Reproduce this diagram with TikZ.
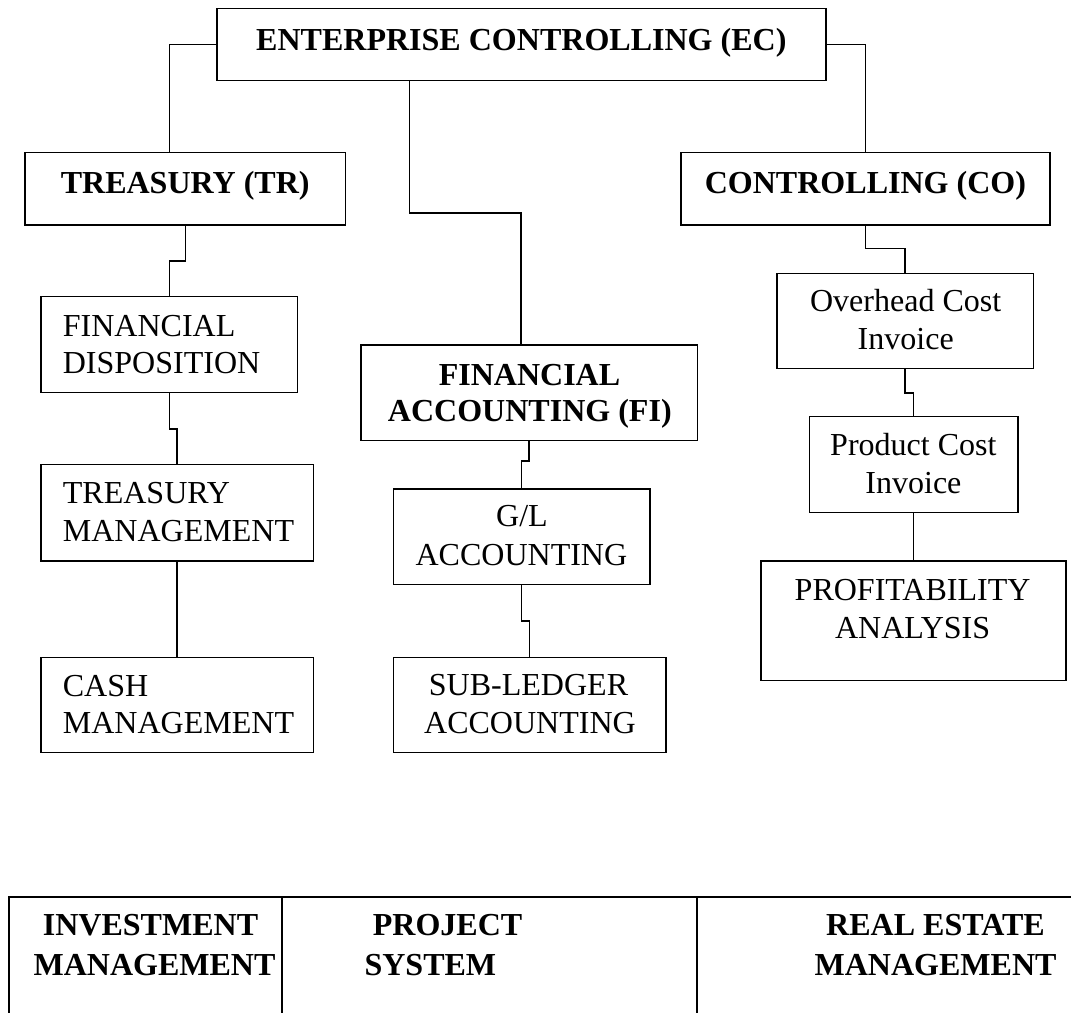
\documentclass[tikz,border=0pt]{standalone}
\usepackage{fontspec}
\setmainfont{Liberation Serif}
% one drawing unit
\newdimen\pxu \pxu=0.380952pt
% box: name, centre x, centre y, width, height
\newcommand\orgbox[5]{\node[box, minimum width=#4\pxu, minimum height=#5\pxu] (#1) at (#2,#3) {};}
\begin{document}
\begin{tikzpicture}[x=0.380952pt, y=-0.380952pt,
  box/.style={draw, line width=0.6pt, rectangle, inner sep=0pt},
  txt/.style={inner sep=0pt, anchor=base, font=\fontsize{12.2}{14.6}\selectfont},
  ltxt/.style={txt, anchor=base west},
  btxt/.style={txt, font=\fontsize{12.2}{14.6}\selectfont\bfseries},
  bltxt/.style={btxt, anchor=base west},
  wire/.style={line width=0.6pt},
  rule/.style={line width=0.75pt}]
\useasboundingbox (0,0) rectangle (1071,1012);

% ---- boxes ----
\orgbox{ec}{521.35}{44.5}{608.7}{72.4}
\orgbox{tr}{185.35}{188.85}{320.7}{72.3}
\orgbox{co}{865.5}{188.85}{369}{72.3}
\orgbox{fd}{169.35}{344.7}{256.7}{96}
\orgbox{tm}{177.15}{512.65}{272.3}{96.7}
\orgbox{cm}{177.15}{705}{272.3}{95.4}
\orgbox{fi}{529.15}{392.85}{336.3}{95.7}
\orgbox{gl}{521.65}{536.65}{256.7}{95.3}
\orgbox{sl}{529.5}{705}{272.4}{95.4}
\orgbox{oh}{905.15}{321}{256.3}{95.4}
\orgbox{pc}{913.5}{464.7}{208.4}{96}
\orgbox{pa}{913.5}{620.85}{305}{119.7}

% ---- labels ----
\node[btxt] (ec-a) at (521.35,50.7) {ENTERPRISE CONTROLLING (EC)};
\node[btxt] (tr-a) at (185.2,194) {TREASURY (TR)};
\node[btxt] (co-a) at (865.4,194) {CONTROLLING (CO)};
\node[ltxt] (fd-a) at (62.3,336) {FINANCIAL};
\node[ltxt] (fd-b) at (62.3,373.3) {DISPOSITION};
\node[ltxt] (tm-a) at (62.3,503.3) {TREASURY};
\node[ltxt] (tm-b) at (62.3,541.7) {MANAGEMENT};
\node[ltxt] (cm-a) at (62.3,696) {CASH};
\node[ltxt] (cm-b) at (62.3,733.3) {MANAGEMENT};
\node[btxt] (fi-a) at (529.5,385) {FINANCIAL};
\node[btxt] (fi-b) at (529.8,421.7) {ACCOUNTING (FI)};
\node[txt] (gl-a) at (522,526.7) {G/L};
\node[txt] (gl-b) at (521.4,565) {ACCOUNTING};
\node[txt] (sl-a) at (528.5,695.7) {SUB-LEDGER};
\node[txt] (sl-b) at (530,733.3) {ACCOUNTING};
\node[txt] (oh-a) at (905.7,311.7) {Overhead Cost};
\node[txt] (oh-b) at (905.7,349) {Invoice};
\node[txt] (pc-a) at (913.4,455) {Product Cost};
\node[txt] (pc-b) at (913.4,493.3) {Invoice};
\node[txt] (pa-a) at (912.6,600) {PROFITABILITY};
\node[txt] (pa-b) at (912.6,638.3) {ANALYSIS};

% ---- connectors ----
\draw[wire] (ec.west) -| ([xshift=-16.05\pxu]tr.north);
\draw[wire] (ec.east) -| (co.north);
\draw[wire] ([xshift=-112.05\pxu]ec.south) -- ++(0,131.3) -| ([xshift=-8.15\pxu]fi.north);
\draw[wire] (tr.south) -- ++(0,35) -| (fd.north);
\draw[wire] (fd.south) -- ++(0,35.6) -| (tm.north);
\draw[wire] (tm.south) -- (cm.north);
\draw[wire] (fi.south) -- ++(0,19.3) -| (gl.north);
\draw[wire] (gl.south) -- ++(0,35.7) -| (sl.north);
\draw[wire] (co.south) -- ++(0,22.7) -| (oh.north);
\draw[wire] (oh.south) -- ++(0,23.6) -| (pc.north);
\draw[wire] (pc.south) -- (pa.north);

% ---- module table along the bottom edge ----
\draw[rule] (9,1020) -- (9,897) -- (1080,897);
\draw[rule] (282,897) -- (282,1020);
\draw[rule] (697,897) -- (697,1020);
\node[btxt] (im-a) at (150.5,935) {INVESTMENT};
\node[btxt] (im-b) at (154.5,975) {MANAGEMENT};
\node[bltxt] (ps-a) at (372.3,935) {PROJECT};
\node[bltxt] (ps-b) at (364,975) {SYSTEM};
\node[btxt] (re-a) at (935.5,935) {REAL ESTATE};
\node[btxt] (re-b) at (935.5,975) {MANAGEMENT};
\end{tikzpicture}
\end{document}
